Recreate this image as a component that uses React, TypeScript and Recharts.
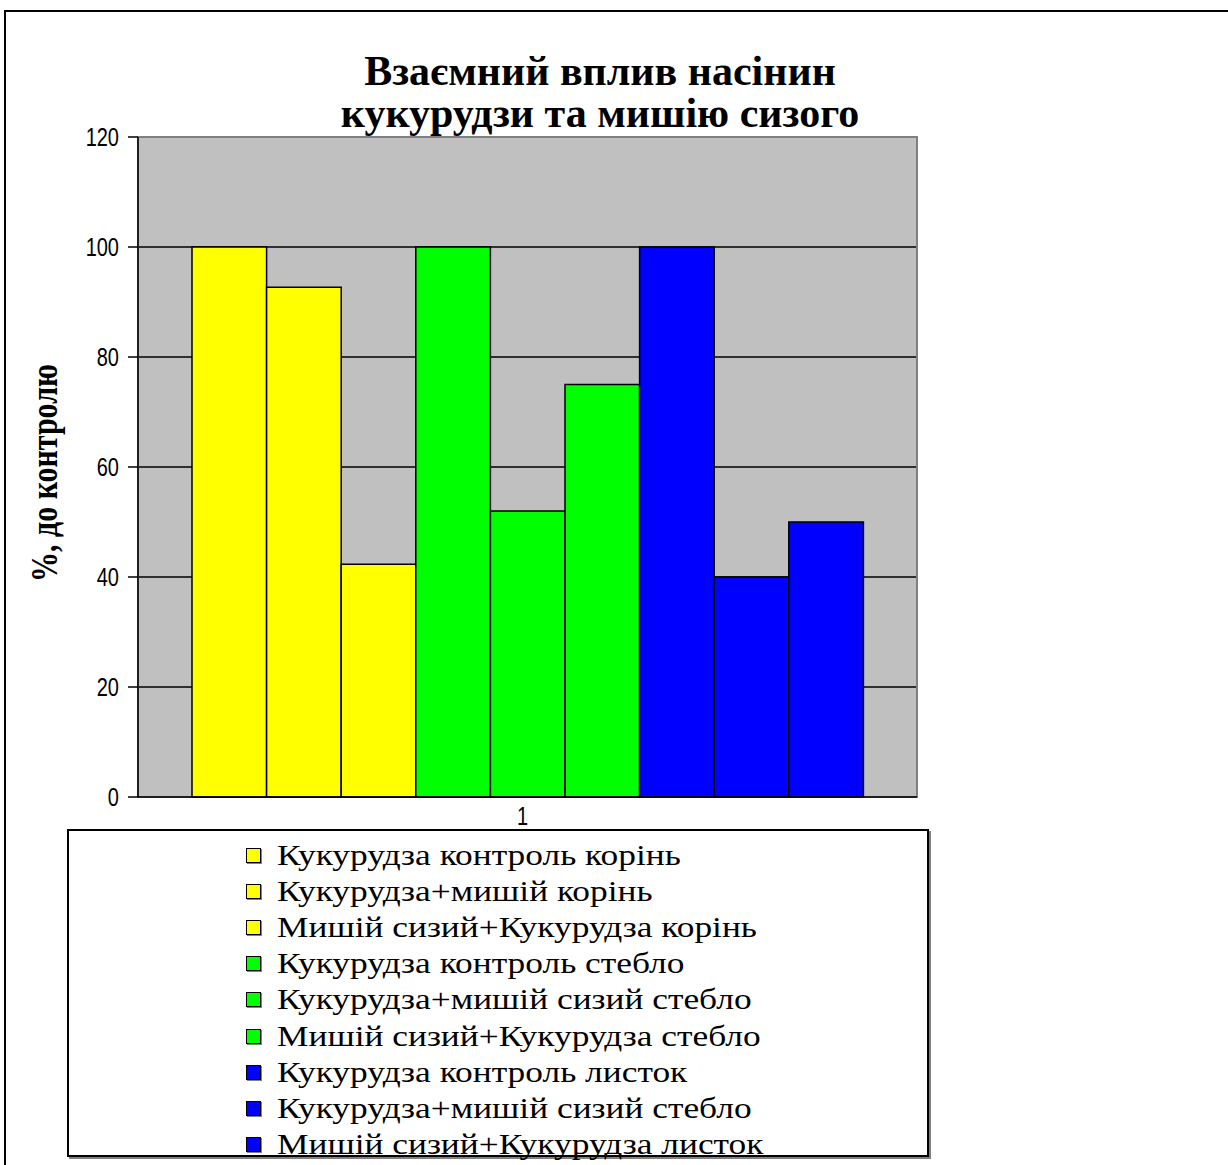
import { Bar, BarChart, CartesianGrid, ReferenceArea, XAxis, YAxis } from "recharts";

const categories = ["1"];
const seriesNames = [
  "Кукурудза контроль корінь",
  "Кукурудза+мишій корінь",
  "Мишій сизий+Кукурудза корінь",
  "Кукурудза контроль стебло",
  "Кукурудза+мишій сизий стебло",
  "Мишій сизий+Кукурудза стебло",
  "Кукурудза контроль листок",
  "Кукурудза+мишій сизий стебло",
  "Мишій сизий+Кукурудза листок",
];
const seriesValues = [100, 92.7, 42.3, 100, 52, 75, 100, 40, 50];
const seriesColors = [
  "#FFFF00", "#FFFF00", "#FFFF00",
  "#00FF00", "#00FF00", "#00FF00",
  "#0000FF", "#0000FF", "#0000FF",
];
const yTicks = [0, 20, 40, 60, 80, 100, 120];
const titleLines = ["Взаємний вплив насінин", "кукурудзи та мишію сизого"];
const yLabel = "%, до контролю";

const data = categories.map((name) => {
  const row: Record<string, string | number> = { name };
  seriesValues.forEach((v, i) => (row[`s${i}`] = v));
  return row;
});

const serif = '"Liberation Serif", "Times New Roman", serif';
const sans = '"Liberation Sans", Arial, sans-serif';

// the source picture is stretched a bit vertically, so tick text gets a scaleY
function YTick({ x, y, payload }: any) {
  return (
    <text
      x={x - 7}
      y={y}
      transform={`translate(0 ${y}) scale(1 1.26) translate(0 ${-y})`}
      textAnchor="end"
      dominantBaseline="central"
      fontFamily={sans}
      fontSize={20}
      fill="#000"
    >
      {payload.value}
    </text>
  );
}

// category label sits just above the legend box
function XTick({ x, y, payload }: any) {
  const ty = y + 20;
  return (
    <text
      x={x - 5}
      y={ty}
      transform={`translate(0 ${ty}) scale(1 1.26) translate(0 ${-ty})`}
      textAnchor="middle"
      fontFamily={sans}
      fontSize={20}
      fill="#000"
    >
      {payload.value}
    </text>
  );
}

export default function App() {
  return (
    <div style={{ position: "absolute", left: 0, top: 0, width: 1228, height: 1165, overflow: "hidden", background: "#fff" }}>
      <div style={{ position: "absolute", left: 4, top: 10, width: 1400, height: 1400, border: "2px solid #000" }} />
      <div style={{ position: "absolute", left: 0, top: 0 }}>
        <BarChart
          width={1228}
          height={1165}
          data={data}
          margin={{ top: 137, right: 311, bottom: 338, left: 38 }}
          barSize={74.6}
          barGap={0}
        >
          <CartesianGrid vertical={false} fill="#C0C0C0" stroke="#000" strokeWidth={1.5} />
          <ReferenceArea y1={0} y2={120} fill="none" stroke="#808080" strokeWidth={2} />
          <XAxis
            dataKey="name"
            height={30}
            tickLine={false}
            axisLine={{ stroke: "#000", strokeWidth: 1.5 }}
            tick={<XTick />}
          />
          <YAxis
            width={100}
            domain={[0, 120]}
            ticks={yTicks}
            interval={0}
            tickSize={10}
            tickLine={{ stroke: "#000", strokeWidth: 1.5 }}
            axisLine={{ stroke: "#000", strokeWidth: 1.5 }}
            tick={<YTick />}
            label={({ viewBox }: any) => {
              const cy = viewBox.y + viewBox.height / 2 + 6;
              return (
                <text
                  transform={`translate(57 ${cy}) rotate(-90) scale(1 1.25)`}
                  textAnchor="middle"
                  fontFamily={serif}
                  fontWeight="bold"
                  fontSize={30}
                  fill="#000"
                >
                  {yLabel}
                </text>
              );
            }}
          />
          {seriesNames.map((n, i) => (
            <Bar
              key={i}
              dataKey={`s${i}`}
              name={n}
              fill={seriesColors[i]}
              stroke="#000"
              strokeWidth={1.5}
              isAnimationActive={false}
            />
          ))}
        </BarChart>
      </div>
      <div
        style={{
          position: "absolute",
          left: 0,
          top: 50,
          width: 1200,
          textAlign: "center",
          fontFamily: serif,
          fontWeight: "bold",
          fontSize: 42,
          lineHeight: "42px",
          color: "#000",
        }}
      >
        {titleLines.map((t) => (
          <div key={t}>{t}</div>
        ))}
      </div>
      <div
        style={{
          position: "absolute",
          left: 67,
          top: 829,
          width: 862,
          height: 328,
          border: "2px solid #000",
          boxShadow: "2px 2px 0 #808080",
          background: "#fff",
          paddingTop: 6,
          boxSizing: "border-box",
        }}
      >
        {seriesNames.map((n, i) => (
          <div
            key={i}
            style={{ display: "flex", alignItems: "center", height: 36.2, paddingLeft: 177 }}
          >
            <span
              style={{
                display: "inline-block",
                flex: "none",
                width: 13,
                height: 13,
                border: "1.5px solid #000",
                background: seriesColors[i],
                boxShadow: "1px 1px 0 #808080",
                marginRight: 16,
              }}
            />
            <span
              style={{
                display: "inline-block",
                fontFamily: serif,
                fontSize: 29,
                color: "#000",
                whiteSpace: "nowrap",
                transform: "scaleX(1.22)",
                transformOrigin: "left center",
              }}
            >
              {n}
            </span>
          </div>
        ))}
      </div>
    </div>
  );
}
